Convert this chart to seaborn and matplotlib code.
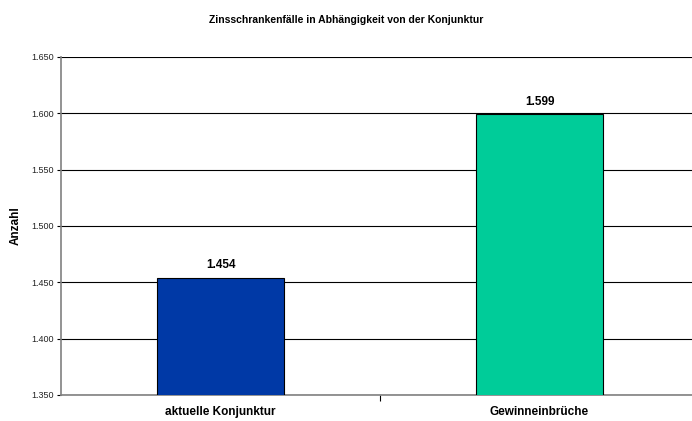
import matplotlib
matplotlib.use("Agg")
import matplotlib.pyplot as plt
from matplotlib.ticker import FuncFormatter, FixedLocator
import seaborn as sns
import pandas as pd

# === DATA ===
categories = ["aktuelle Konjunktur", "Gewinneinbrüche"]
counts = [1454, 1599]
bar_colors = ["#0039A6", "#00CC99"]
y_ticks = [1350, 1400, 1450, 1500, 1550, 1600, 1650]

df = pd.DataFrame({"kategorie": categories, "anzahl": counts})

sns.set_style("white", {"text.color": "black", "axes.labelcolor": "black",
                        "xtick.color": "black", "ytick.color": "black"})
plt.rcParams["font.family"] = ["Liberation Sans", "DejaVu Sans"]

def de_fmt(v, pos=None):
    return f"{int(round(v)):,}".replace(",", ".")

fig = plt.figure(figsize=(6.92, 4.21), dpi=100)
ax = fig.add_axes([0.0882, 0.0618, 0.922, 0.8029])

sns.barplot(data=df, x="kategorie", y="anzahl", hue="kategorie",
            palette=bar_colors, saturation=1, width=0.4, edgecolor="black",
            linewidth=0.8, legend=False, ax=ax, zorder=3)

ax.set_ylim(1350, 1650)
ax.set_xlim(-0.5, 1.5)
ax.yaxis.set_major_locator(FixedLocator(y_ticks))
ax.yaxis.set_major_formatter(FuncFormatter(de_fmt))
ax.grid(axis="y", color="black", linewidth=0.8, zorder=0)
ax.set_axisbelow(True)

for i, v in enumerate(counts):
    ax.text(i, v + 6, de_fmt(v), ha="center", va="bottom",
            fontsize=8.5, fontweight="bold", color="black")

ax.tick_params(axis="y", labelsize=6.5, length=3, width=0.8, direction="out",
               left=True, color="black", pad=2, labelcolor="#222222")
ax.tick_params(axis="x", which="major", length=0, labelsize=8.5, pad=8)
for lbl in ax.get_xticklabels():
    lbl.set_fontweight("bold")
ax.xaxis.set_minor_locator(FixedLocator([0.5]))
ax.tick_params(axis="x", which="minor", length=4, width=0.8, color="black",
               direction="out", bottom=True)

for side in ["top", "right"]:
    ax.spines[side].set_visible(False)
for side in ["left", "bottom"]:
    ax.spines[side].set_color("#808080")
    ax.spines[side].set_linewidth(1.2)

ax.set_xlabel("")
ax.set_ylabel("Anzahl", fontsize=8.5, fontweight="bold", labelpad=7)
fig.text(0.5, 0.952, "Zinsschrankenfälle in Abhängigkeit von der Konjunktur",
         ha="center", va="center", fontsize=7.5, fontweight="bold")

fig.savefig("out.png", dpi=100)
